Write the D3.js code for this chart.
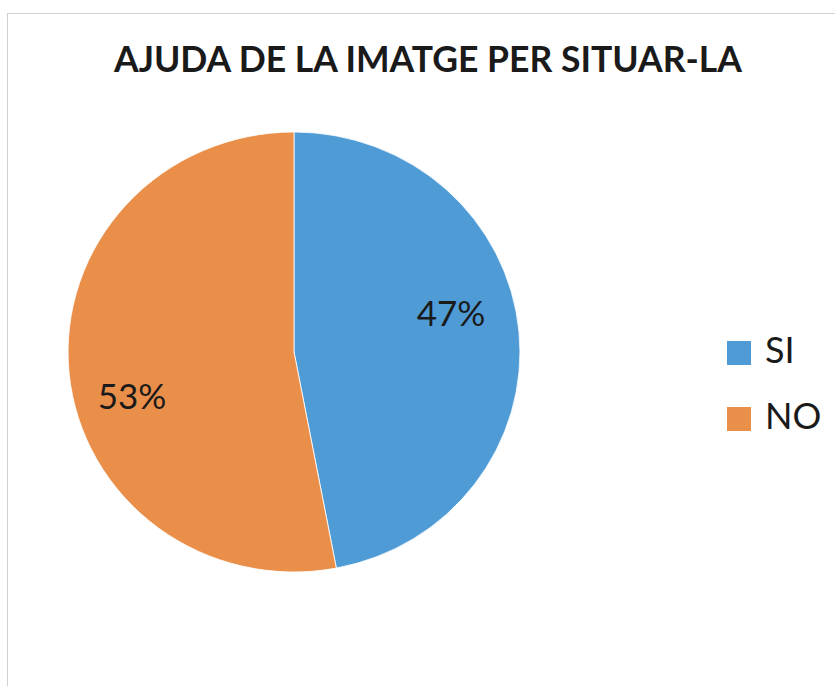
<!DOCTYPE html>
<html>
<head>
<meta charset="utf-8">
<script src="https://cdn.jsdelivr.net/npm/d3@7"></script>
<style>
  body { margin: 0; background: #fff; }
  svg { display: block; }
</style>
</head>
<body>
<svg></svg>
<script>
const categories = ["SI", "NO"];
const values = [47, 53];
const colors = ["#4f9bd6", "#ea8f4a"];
const title = "AJUDA DE LA IMATGE PER SITUAR-LA";

const width = 835, height = 686;
const svg = d3.select("svg")
    .attr("width", width)
    .attr("height", height);

// chart frame (only top and left edges are visible in the scan)
svg.append("rect")
    .attr("x", 7.5).attr("y", 13.5)
    .attr("width", 900).attr("height", 900)
    .attr("fill", "none")
    .attr("stroke", "#d0d0d0")
    .attr("stroke-width", 1);

svg.append("text")
    .attr("x", 428)
    .attr("y", 72)
    .attr("text-anchor", "middle")
    .attr("font-family", "Lato, 'Open Sans', sans-serif")
    .attr("font-weight", "bold")
    .attr("font-size", 36)
    .attr("fill", "#1a1a1a")
    .attr("textLength", 628)
    .attr("lengthAdjust", "spacingAndGlyphs")
    .text(title);

const data = categories.map((c, i) => ({ name: c, value: values[i], color: colors[i] }));

const pie = d3.pie().sort(null).value(d => d.value);
const r = 220;
const arc = d3.arc().innerRadius(0).outerRadius(r);
const labelArc = d3.arc().innerRadius(r * 0.72).outerRadius(r * 0.72);
// excel "best fit" moves the labels a bit off the mid angle
const labelNudge = [[-5, -23], [0, 30]];

const g = svg.append("g")
    .attr("transform", "translate(294,352) scale(1.027,1)");

g.selectAll("path")
    .data(pie(data))
    .enter().append("path")
    .attr("d", arc)
    .attr("fill", d => d.data.color)
    .attr("stroke", "#fff")
    .attr("stroke-width", 0.8);

const total = d3.sum(values);
svg.append("g")
    .attr("transform", "translate(294,352)")
    .selectAll("text")
    .data(pie(data))
    .enter().append("text")
    .attr("transform", (d, i) => {
        const [x, y] = labelArc.centroid(d);
        return `translate(${x * 1.027 + labelNudge[i][0]},${y + labelNudge[i][1]})`;
    })
    .attr("text-anchor", "middle")
    .attr("dy", "0.35em")
    .attr("font-family", "Lato, 'Open Sans', sans-serif")
    .attr("font-size", 35)
    .attr("fill", "#1a1a1a")
    .text(d => Math.round(d.data.value / total * 100) + "%");

// legend
const legend = svg.append("g")
    .attr("transform", "translate(727,341)");

const item = legend.selectAll("g")
    .data(data)
    .enter().append("g")
    .attr("transform", (d, i) => `translate(0,${i * 66})`);

item.append("rect")
    .attr("width", 24).attr("height", 24)
    .attr("fill", d => d.color);

item.append("text")
    .attr("x", 38)
    .attr("y", 22)
    .attr("font-family", "Lato, 'Open Sans', sans-serif")
    .attr("font-size", 36)
    .attr("fill", "#1a1a1a")
    .text(d => d.name);
</script>
</body>
</html>
